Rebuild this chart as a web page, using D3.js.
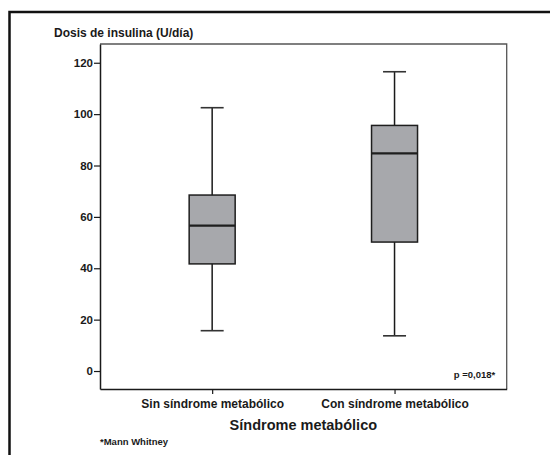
<!DOCTYPE html>
<head>
<meta charset="utf-8">
<title>Dosis de insulina</title>
<script src="https://d3js.org/d3.v7.min.js"></script>
<style>
  body { margin: 0; background: #fff; }
  text { font-family: "Liberation Sans", Arial, sans-serif; font-weight: bold; fill: #1a1a1a; }
</style>
</head>
<body>
<div id="chart"></div>
<script>

  var groups = ["Sin síndrome metabólico", "Con síndrome metabólico"];
  var mins    = [15.7, 13.7];
  var q1s     = [41.7, 50.2];
  var medians = [56.6, 84.7];
  var q3s     = [68.5, 95.6];
  var maxs    = [102.5, 116.5];
  var yTicks  = [0, 20, 40, 60, 80, 100, 120];

  var data = groups.map(function(g, i) {
    return {name: g, min: mins[i], q1: q1s[i], median: medians[i], q3: q3s[i], max: maxs[i]};
  });

  var margin = {top: 44, right: 43.3, bottom: 66, left: 100},
      width = 550 - margin.left - margin.right,
      height = 455 - margin.top - margin.bottom;

  var svg = d3.select("#chart")
    .append("svg")
      .attr("width", 550)
      .attr("height", 455);

  // outer frame (only top and left visible)
  svg.append("path")
    .attr("d", "M9.5,456 L9.5,12 L551,12")
    .style("fill", "none")
    .style("stroke", "#111")
    .style("stroke-width", 2.5);

  svg.append("text")
    .attr("x", 54)
    .attr("y", 36.5)
    .style("font-size", "12px")
    .text("Dosis de insulina (U/día)");

  var g = svg.append("g")
    .attr("transform", "translate(" + margin.left + "," + margin.top + ")");

  var x = d3.scalePoint()
    .domain(groups)
    .range([0, width])
    .padding(0.615);

  var y = d3.scaleLinear()
    .domain([-7, 127.3])
    .range([height, 0]);

  // top and right frame of plot area
  g.append("path")
    .attr("d", "M0,0 L" + width + ",0 L" + width + "," + height)
    .style("fill", "none")
    .style("stroke", "#555")
    .style("stroke-width", 1.3);

  var yAxis = g.append("g")
    .call(d3.axisLeft(y).tickValues(yTicks).tickSize(6).tickPadding(1).tickSizeOuter(0));
  yAxis.select(".domain").style("stroke", "#1a1a1a").style("stroke-width", 1.5);
  yAxis.selectAll(".tick line").style("stroke", "#1a1a1a").style("stroke-width", 1.2);
  yAxis.selectAll("text")
    .style("font-size", "11.5px")
    .style("font-family", "'Liberation Sans', Arial, sans-serif")
    .style("font-weight", "bold")
    .style("fill", "#1a1a1a");

  var xAxis = g.append("g")
    .attr("transform", "translate(0," + height + ")")
    .call(d3.axisBottom(x).tickSize(5).tickPadding(5).tickSizeOuter(0));
  xAxis.select(".domain").style("stroke", "#1a1a1a").style("stroke-width", 1.5);
  xAxis.selectAll(".tick line").style("stroke", "#1a1a1a").style("stroke-width", 1.2);
  xAxis.selectAll("text")
    .style("font-size", "12px")
    .style("font-family", "'Liberation Sans', Arial, sans-serif")
    .style("font-weight", "bold")
    .style("fill", "#1a1a1a");

  var boxWidth = 46;

  var boxes = g.selectAll(".box")
    .data(data)
    .enter()
    .append("g")
      .attr("class", "box");

  boxes.append("line")
    .attr("x1", function(d) { return x(d.name); })
    .attr("x2", function(d) { return x(d.name); })
    .attr("y1", function(d) { return y(d.max); })
    .attr("y2", function(d) { return y(d.min); })
    .style("stroke", "#1a1a1a")
    .style("stroke-width", 1.5);

  boxes.selectAll(".cap")
    .data(function(d) { return [d.min, d.max].map(function(v) { return {name: d.name, v: v}; }); })
    .enter()
    .append("line")
      .attr("x1", function(d) { return x(d.name) - boxWidth / 4; })
      .attr("x2", function(d) { return x(d.name) + boxWidth / 4; })
      .attr("y1", function(d) { return y(d.v); })
      .attr("y2", function(d) { return y(d.v); })
      .style("stroke", "#333")
      .style("stroke-width", 1.6);

  boxes.append("rect")
    .attr("x", function(d) { return x(d.name) - boxWidth / 2; })
    .attr("y", function(d) { return y(d.q3); })
    .attr("width", boxWidth)
    .attr("height", function(d) { return y(d.q1) - y(d.q3); })
    .style("fill", "#a7a8ac")
    .style("stroke", "#1e1e1e")
    .style("stroke-width", 1.5);

  boxes.append("line")
    .attr("x1", function(d) { return x(d.name) - boxWidth / 2; })
    .attr("x2", function(d) { return x(d.name) + boxWidth / 2; })
    .attr("y1", function(d) { return y(d.median); })
    .attr("y2", function(d) { return y(d.median); })
    .style("stroke", "#1e1e1e")
    .style("stroke-width", 2.2);

  g.append("text")
    .attr("x", width - 11.5)
    .attr("y", y(-2.8))
    .attr("text-anchor", "end")
    .style("font-size", "9.5px")
    .text("p =0,018*");

  svg.append("text")
    .attr("x", margin.left + width / 2)
    .attr("y", 430)
    .attr("text-anchor", "middle")
    .style("font-size", "14.5px")
    .text("Síndrome metabólico");

  svg.append("text")
    .attr("x", 100)
    .attr("y", 445)
    .style("font-size", "9.5px")
    .text("*Mann Whitney");

</script>
</body>
